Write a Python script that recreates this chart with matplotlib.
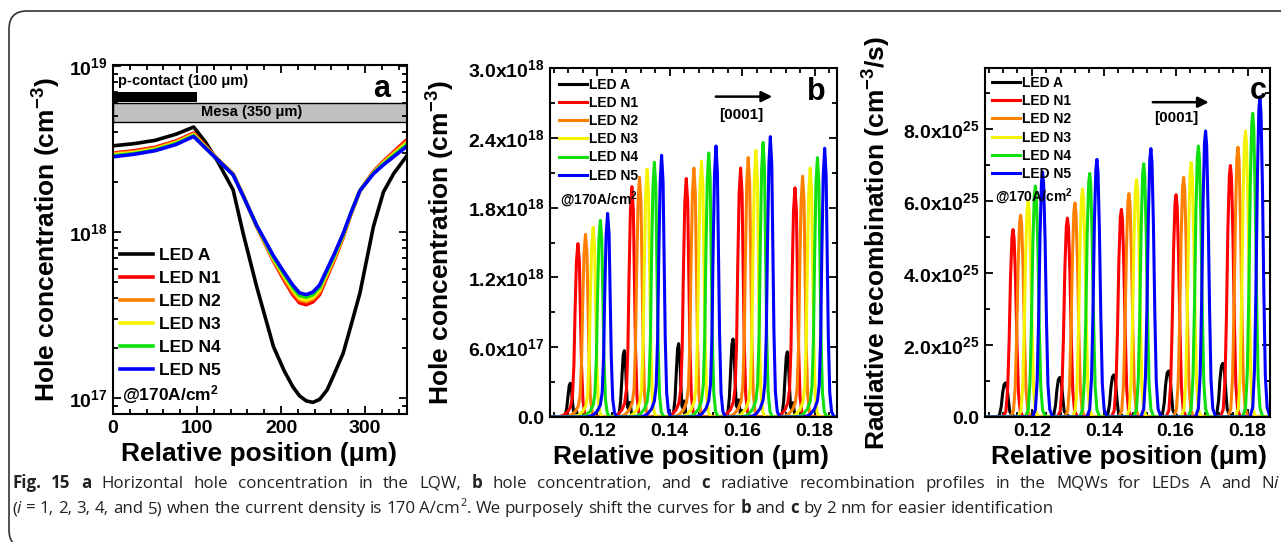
import matplotlib
matplotlib.use('Agg')
import matplotlib.pyplot as plt
from matplotlib.patches import FancyBboxPatch, Rectangle
from matplotlib.transforms import IdentityTransform
from matplotlib.ticker import AutoMinorLocator, LogLocator, NullFormatter

# ---------------- data ----------------
SERIES = ['LED A', 'LED N1', 'LED N2', 'LED N3', 'LED N4', 'LED N5']
COLORS = ['#000000', '#ff0000', '#ff8000', '#f4f400', '#10e010', '#0000ff']

# (a) horizontal hole concentration in LQW, x in um, values in 1e18 cm^-3
A_X = [0, 25, 50, 75, 96, 110, 125, 143, 155, 171, 191, 204, 214, 222, 230, 238,
       246, 255, 263, 274, 283, 294, 310, 322, 334, 350]
A_VALS = {
    'LED A':  [3.32, 3.42, 3.58, 3.90, 4.31, 3.50, 2.65, 1.80, 0.98, 0.47, 0.204, 0.145,
               0.117, 0.103, 0.096, 0.094, 0.098, 0.112, 0.138, 0.186, 0.27, 0.43, 1.08,
               1.75, 2.25, 2.90],
    'LED N1': [3.00, 3.10, 3.25, 3.55, 3.96, 3.32, 2.75, 2.25, 1.67, 1.08, 0.67, 0.51,
               0.42, 0.375, 0.365, 0.38, 0.42, 0.54, 0.67, 0.93, 1.27, 1.78, 2.32,
               2.68, 3.05, 3.62],
    'LED N2': [2.97, 3.06, 3.21, 3.51, 3.91, 3.29, 2.74, 2.24, 1.66, 1.085, 0.68, 0.525,
               0.435, 0.39, 0.38, 0.395, 0.435, 0.555, 0.685, 0.94, 1.28, 1.78, 2.30,
               2.65, 3.00, 3.53],
    'LED N3': [2.93, 3.02, 3.17, 3.46, 3.87, 3.26, 2.73, 2.23, 1.66, 1.09, 0.69, 0.54,
               0.45, 0.40, 0.39, 0.405, 0.45, 0.57, 0.70, 0.955, 1.29, 1.78, 2.28,
               2.61, 2.95, 3.45],
    'LED N4': [2.89, 2.98, 3.13, 3.42, 3.82, 3.24, 2.72, 2.22, 1.655, 1.095, 0.705, 0.555,
               0.465, 0.415, 0.405, 0.42, 0.465, 0.585, 0.715, 0.97, 1.30, 1.78, 2.27,
               2.58, 2.90, 3.38],
    'LED N5': [2.85, 2.95, 3.10, 3.38, 3.78, 3.22, 2.72, 2.22, 1.65, 1.10, 0.72, 0.57,
               0.48, 0.43, 0.42, 0.435, 0.48, 0.60, 0.73, 0.98, 1.30, 1.78, 2.25,
               2.55, 2.85, 3.30],
}

# (b),(c) peak position of LED A in each quantum well (um) and shift of each LED (caption: 2 nm)
WELLS_B = [0.1126, 0.1275, 0.1425, 0.1575, 0.1725]
WELLS_C = [0.1127, 0.1278, 0.1428, 0.1580, 0.1731]
SHIFT = [0.0, 0.0021, 0.0042, 0.0063, 0.0083, 0.0103]

# (b) peak hole concentration per well, 1e18 cm^-3
PEAK_B = {
    'LED A':  [0.29, 0.57, 0.63, 0.67, 0.56],
    'LED N1': [1.49, 1.98, 2.05, 2.14, 1.97],
    'LED N2': [1.57, 2.06, 2.14, 2.23, 2.07],
    'LED N3': [1.63, 2.13, 2.20, 2.29, 2.14],
    'LED N4': [1.69, 2.19, 2.27, 2.36, 2.23],
    'LED N5': [1.75, 2.25, 2.33, 2.41, 2.31],
}
# (c) peak radiative recombination per well, 1e25 cm^-3/s
PEAK_C = {
    'LED A':  [0.95, 1.10, 1.17, 1.28, 1.49],
    'LED N1': [5.21, 5.53, 5.77, 6.18, 6.99],
    'LED N2': [5.61, 5.95, 6.21, 6.66, 7.50],
    'LED N3': [6.00, 6.34, 6.60, 7.07, 7.95],
    'LED N4': [6.42, 6.77, 7.04, 7.53, 8.44],
    'LED N5': [6.81, 7.16, 7.46, 7.95, 8.90],
}

# peak profiles (offset in um, fraction of peak height)
PROF_B_A = ([-0.0030, -0.0020, -0.0014, -0.0010, -0.0006, -0.0003, 0.0, 0.0003, 0.0006,
             0.0009, 0.0012, 0.0016, 0.0020, 0.0026],
            [0.0, 0.02, 0.06, 0.25, 0.65, 0.93, 1.0, 0.85, 0.45, 0.15, 0.12, 0.22, 0.05, 0.0])
PROF_B_N = ([-0.0055, -0.0040, -0.0028, -0.0020, -0.0015, -0.0011, -0.0008, -0.0004, 0.0,
             0.0004, 0.0007, 0.0010, 0.0014, 0.0019, 0.0026],
            [0.0, 0.01, 0.03, 0.06, 0.12, 0.30, 0.60, 0.90, 1.0, 0.90, 0.60, 0.30, 0.09, 0.02, 0.0])
PROF_C_A = ([-0.0024, -0.0017, -0.0012, -0.0008, -0.0004, 0.0, 0.0004, 0.0008, 0.0012,
             0.0016, 0.0020, 0.0026],
            [0.0, 0.05, 0.30, 0.70, 0.95, 1.0, 0.90, 0.50, 0.15, 0.08, 0.06, 0.0])
PROF_C_N = ([-0.0028, -0.0020, -0.0015, -0.0011, -0.0007, -0.0003, 0.0, 0.0003, 0.0007,
             0.0011, 0.0015, 0.0020, 0.0028],
            [0.0, 0.03, 0.15, 0.40, 0.75, 0.96, 1.0, 0.95, 0.72, 0.38, 0.13, 0.03, 0.0])

B_YTICKS = [0.0, 0.6e18, 1.2e18, 1.8e18, 2.4e18, 3.0e18]
B_YLABELS = ['0.0', '6.0x10$^{17}$', '1.2x10$^{18}$', '1.8x10$^{18}$', '2.4x10$^{18}$', '3.0x10$^{18}$']
C_YTICKS = [0.0, 2e25, 4e25, 6e25, 8e25]
C_YLABELS = ['0.0', '2.0x10$^{25}$', '4.0x10$^{25}$', '6.0x10$^{25}$', '8.0x10$^{25}$']
MQW_XTICKS = [0.12, 0.14, 0.16, 0.18]

# ---------------- style ----------------
plt.rcParams.update({
    'font.family': ['Liberation Sans', 'DejaVu Sans'],
    'font.weight': 'bold',
    'axes.labelweight': 'bold',
    'mathtext.fontset': 'custom',
    'mathtext.rm': 'Liberation Sans:bold',
    'mathtext.bf': 'Liberation Sans:bold',
    'mathtext.it': 'Liberation Sans:italic:bold',
    'axes.linewidth': 1.5,
})

W, H = 1281, 542
fig = plt.figure(figsize=(W / 100, H / 100), dpi=100)


def px_rect(l, t, r, b):
    return [l / W, 1 - b / H, (r - l) / W, (b - t) / H]


def style(ax):
    ax.tick_params(which='both', direction='in', top=True, right=True, width=1.3,
                   labelsize=14, pad=4)
    ax.tick_params(which='major', length=6)
    ax.tick_params(which='minor', length=3.5)


def trace(wells, shift, heights, prof, x0, x1, scale):
    xs, ys = [x0], [0.0]
    for w, h in zip(wells, heights):
        for d, r in zip(*prof):
            xs.append(w + shift + d)
            ys.append(h * scale * r)
    xs.append(x1)
    ys.append(0.0)
    return xs, ys


# ---------------- panel a ----------------
ax = fig.add_axes(px_rect(113, 65, 407, 414))
style(ax)
lines = []
for name, col in zip(SERIES, COLORS):
    ln, = ax.plot(A_X, [v * 1e18 for v in A_VALS[name]], color=col, lw=2.6, label=name)
    lines.append(ln)
ax.set_yscale('log')
ax.set_xlim(0, 350)
ax.set_ylim(8e16, 1.02e19)
ax.set_xticks([0, 100, 200, 300])
ax.xaxis.set_minor_locator(AutoMinorLocator(5))
ax.set_yticks([1e17, 1e18, 1e19], ['$10^{17}$', '$10^{18}$', '$10^{19}$'])
ax.yaxis.set_minor_locator(LogLocator(base=10, subs=[2, 3, 4, 5, 6, 7, 8, 9]))
ax.yaxis.set_minor_formatter(NullFormatter())
ax.add_patch(Rectangle((0, 0.895), 0.2857, 0.027, transform=ax.transAxes,
                       facecolor='black', edgecolor='none'))
ax.add_patch(Rectangle((0, 0.838), 1, 0.054, transform=ax.transAxes,
                       facecolor='#c0c0c0', edgecolor='black', lw=1))
ax.text(0.018, 0.955, 'p-contact (100 \u03bcm)', transform=ax.transAxes, fontsize=10.5,
        va='center', ha='left')
ax.text(0.47, 0.865, 'Mesa (350 \u03bcm)', transform=ax.transAxes, fontsize=10.5,
        va='center', ha='center')
ax.text(0.915, 0.93, 'a', transform=ax.transAxes, fontsize=22, va='center', ha='center')
ax.legend(handles=lines, loc='upper left', bbox_to_anchor=(0.025, 0.475), frameon=False,
          fontsize=12.5, handlelength=1.9, handletextpad=0.35, labelspacing=0.45,
          borderpad=0, borderaxespad=0)
ax.text(0.03, 0.055, '@170A/cm$^2$', transform=ax.transAxes, fontsize=12.5, va='center')
ax.set_xlabel('Relative position (\u03bcm)', fontsize=19)
ax.set_ylabel('Hole concentration (cm$^{-3}$)', fontsize=19)
ax.xaxis.set_label_coords(0.497, -0.08)
ax.yaxis.set_label_coords(-0.17, 0.5)

# ---------------- panels b, c ----------------
panels = [
    (px_rect(550, 68, 837, 417), WELLS_B, PEAK_B, PROF_B_A, PROF_B_N, 1e18, 3.0e18,
     B_YTICKS, B_YLABELS, 'b', 'Hole concentration (cm$^{-3}$)',
     dict(leg=(0.033, 0.972), at=(0.035, 0.622), arr=(0.568, 0.784, 0.918), tag=(0.929, 0.932),
          lab=(0.668, 0.865), ylc=-0.324, xlc=0.49)),
    (px_rect(985, 68, 1270, 417), WELLS_C, PEAK_C, PROF_C_A, PROF_C_N, 1e25, 9.7e25,
     C_YTICKS, C_YLABELS, 'c', 'Radiative recombination (cm$^{-3}$/s)',
     dict(leg=(0.026, 0.977), at=(0.035, 0.631), arr=(0.579, 0.795, 0.902), tag=(0.958, 0.935),
          lab=(0.670, 0.856), ylc=-0.323, xlc=0.505)),
]
X0, X1 = 0.107, 0.1862
for rect, wells, peaks, prof_a, prof_n, scale, ytop, yt, yl, tag, ylabel, pos in panels:
    ax = fig.add_axes(rect)
    style(ax)
    lines = []
    for i, (name, col) in enumerate(zip(SERIES, COLORS)):
        prof = prof_a if i == 0 else prof_n
        xs, ys = trace(wells, SHIFT[i], peaks[name], prof, X0, X1, scale)
        ln, = ax.plot(xs, ys, color=col, lw=2.2, label=name)
        lines.append(ln)
    ax.set_xlim(X0, X1)
    ax.set_ylim(0, ytop)
    ax.set_xticks(MQW_XTICKS, ['%.2f' % v for v in MQW_XTICKS])
    ax.xaxis.set_minor_locator(AutoMinorLocator(5))
    ax.set_yticks(yt, yl)
    ax.yaxis.set_minor_locator(AutoMinorLocator(2))
    ax.legend(handles=lines, loc='upper left', bbox_to_anchor=pos['leg'], frameon=False,
              fontsize=10, handlelength=2.0, handletextpad=0.15, labelspacing=0.3,
              borderpad=0, borderaxespad=0)
    ax.text(pos['at'][0], pos['at'][1], '@170A/cm$^2$', transform=ax.transAxes,
            fontsize=10, va='center')
    x_s, x_e, y_a = pos['arr']
    ax.annotate('', xy=(x_e, y_a), xytext=(x_s, y_a), xycoords='axes fraction',
                arrowprops=dict(arrowstyle='-|>', lw=1.8, color='black', mutation_scale=16))
    ax.text(pos['lab'][0], pos['lab'][1], '[0001]', transform=ax.transAxes, fontsize=11,
            ha='center', va='center')
    ax.text(pos['tag'][0], pos['tag'][1], tag, transform=ax.transAxes, fontsize=22,
            ha='center', va='center')
    ax.set_xlabel('Relative position (\u03bcm)', fontsize=19)
    ax.set_ylabel(ylabel, fontsize=19)
    ax.xaxis.set_label_coords(pos['xlc'], -0.08)
    ax.yaxis.set_label_coords(pos['ylc'], 0.5)

# ---------------- frame and caption ----------------
fig.add_artist(FancyBboxPatch((9, -6), 1330, H - 11 + 6, boxstyle='round,pad=0,rounding_size=18',
                              transform=IdentityTransform(), facecolor='none',
                              edgecolor='#333333', lw=1.2))

rend = fig.canvas.get_renderer()
CAP_FONT = ['Open Sans', 'DejaVu Sans']
CAP_SIZE = 12.2


def cap_kw(kind):
    kw = dict(family=CAP_FONT, fontsize=CAP_SIZE, fontweight='normal', fontstyle='normal',
              color='#222222')
    if kind == 'b':
        kw['fontweight'] = 'bold'
    elif kind == 'i':
        kw['fontstyle'] = 'italic'
    elif kind == 'sup':
        kw['fontsize'] = CAP_SIZE * 0.65
    return kw


def width(s, kw):
    t = fig.text(0, 0, '|' + s + '|', **kw)
    t2 = fig.text(0, 0, '||', **kw)
    w = t.get_window_extent(renderer=rend).width - t2.get_window_extent(renderer=rend).width
    t.remove()
    t2.remove()
    return w


def runs(x, y, parts, target=None):
    # split into words and spaces so that a line can be justified
    tokens = []
    for s, kind in parts:
        pieces = s.split(' ')
        for j, p in enumerate(pieces):
            if j > 0:
                tokens.append((' ', kind))
            if p:
                tokens.append((p, kind))
    widths = [width(s, cap_kw(k)) for s, k in tokens]
    extra = 0.0
    if target is not None:
        n_sp = sum(1 for s, _ in tokens if s == ' ')
        extra = max(0.0, (target - sum(widths)) / n_sp)
    for (s, kind), w in zip(tokens, widths):
        if s == ' ':
            x += w + extra
            continue
        dy = CAP_SIZE * 0.55 if kind == 'sup' else 0
        fig.text(x / W, 1 - (y - dy) / H, s, va='baseline', ha='left', **cap_kw(kind))
        x += w


LINE1 = [('Fig. 15 a', 'b'), (' Horizontal hole concentration in the LQW, ', 'n'), ('b', 'b'),
         (' hole concentration, and ', 'n'), ('c', 'b'),
         (' radiative recombination profiles in the MQWs for LEDs A and N', 'n'), ('i', 'i')]
LINE2 = [('(', 'n'), ('i', 'i'), (' = 1, 2, 3, 4, and 5) when the current density is 170 A/cm', 'n'),
         ('2', 'sup'), ('. We purposely shift the curves for ', 'n'), ('b', 'b'), (' and ', 'n'),
         ('c', 'b'), (' by 2 nm for easier identification', 'n')]
runs(12, 488, LINE1, target=1266)
runs(12, 513, LINE2)

fig.savefig('out.png', dpi=100)
